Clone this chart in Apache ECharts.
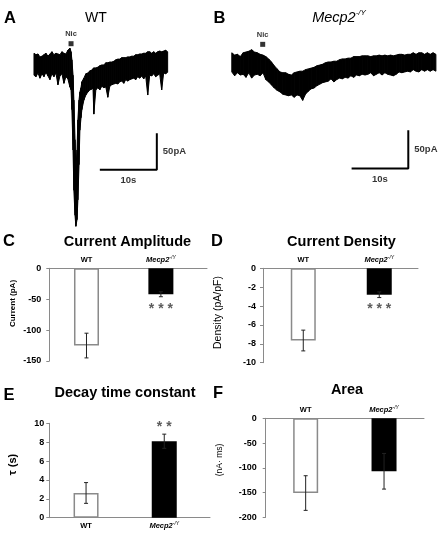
<!doctype html>
<html>
<head>
<meta charset="utf-8">
<title>Nicotinic currents WT vs Mecp2</title>
<style>
html, body { margin: 0; padding: 0; background: #fff; }
#chart { width: 438px; height: 538px; }
</style>
</head>
<body>
<div id="chart"></div>
<script src="https://cdn.jsdelivr.net/npm/echarts@6/dist/echarts.min.js"></script>
<script>
// ---- A: WT current trace (s, pA), upper / lower edge of the noisy record ----
var tA = [0.7, 1.05, 1.4, 1.75, 2.1, 2.45, 2.8, 3.15, 3.5, 3.85, 4.2, 4.55, 4.9, 5.25, 5.6, 5.95, 6.3, 6.65, 7.0,
  7.2, 7.35, 7.55, 7.7, 7.9, 8.05, 8.25, 8.4, 8.6, 8.75, 8.95, 9.1,
  9.45, 9.8, 10.15, 10.5, 10.85, 11.05, 11.2,
  11.55, 11.9, 12.25, 12.6, 12.95, 13.3, 13.65, 14.0,
  14.35, 14.7, 15.05, 15.4, 15.75, 16.1, 16.45, 16.8, 17.15, 17.5, 17.85, 18.2, 18.55, 18.9, 19.25,
  19.6, 19.95, 20.3, 20.65, 21.0, 21.35, 21.7, 22.05, 22.4, 22.75, 23.1, 23.45, 23.8, 24.15];
var aHi = [16, 14, 15, 11, 12, 14, 16, 12, 15, 18, 14, 16, 15, 14, 18, 16, 15, 20, 23,
  18, 7, -14, -48, -102, -143, -116, -75, -48, -37, -31, -23,
  -18, -12, -11, -8, -7, -5, -4,
  -4, -3, -1, 0, 0, 3, 3, 4,
  4, 5, 7, 8, 8, 10, 10, 10, 11, 11, 12, 12, 14, 14, 15,
  15, 16, 16, 18, 18, 16, 18, 16, 18, 19, 18, 19, 20, 18];
var aLo = [-14, -16, -11, -18, -12, -16, -10, -15, -20, -12, -16, -11, -27, -15, -12, -25, -16, -19, -30,
  -34, -61, -116, -171, -205, -220, -211, -184, -136, -89, -72, -61,
  -48, -41, -37, -34, -33, -31, -67,
  -34, -31, -34, -29, -31, -30, -44, -29,
  -27, -26, -25, -26, -23, -22, -25, -20, -22, -20, -19, -18, -20, -16, -18,
  -15, -19, -15, -41, -14, -15, -12, -16, -14, -12, -34, -11, -12, -10];

// ---- B: Mecp2-/Y current trace ----
var tB = [1.2, 1.7, 2.2, 2.7, 3.2, 3.7, 4.2, 4.7, 5.2, 5.7, 6.2, 6.7, 7.2, 7.7, 8.2, 8.7, 9.2, 9.7, 10.2, 10.7,
  11.2, 11.7, 12.2, 12.7, 13.2, 13.7, 14.2, 14.7, 15.2, 15.7, 16.2, 16.7, 17.2, 17.7, 18.2, 18.7, 19.2, 19.7,
  20.2, 20.7, 21.2, 21.7, 22.2, 22.7, 23.2, 23.7, 24.2, 24.7, 25.2, 25.7, 26.2, 26.7, 27.2, 27.7, 28.2, 28.7,
  29.2, 29.7, 30.2, 30.7, 31.2, 31.7, 32.2, 32.7, 33.2, 33.7, 34.2, 34.7, 35.2, 35.7, 36.2, 36.7, 37.2];
var bHi = [12, 9, 10, 7, 12, 13, 14, 16, 13, 12, 10, 9, 7, 4, 0, -5, -9, -13, -14, -14,
  -16, -17, -14, -13, -12, -12, -10, -9, -8, -7, -5, -4, -3, -1, 0, 0, 1, 1,
  3, 4, 4, 5, 5, 7, 7, 7, 8, 8, 8, 7, 8, 8, 9, 8, 9, 8,
  9, 8, 9, 10, 10, 9, 10, 10, 12, 10, 12, 12, 10, 12, 10, 12, 10];
var bLo = [-13, -18, -14, -17, -16, -20, -14, -21, -17, -16, -18, -14, -23, -26, -30, -34, -37, -39, -42, -43,
  -44, -43, -46, -43, -44, -50, -42, -38, -35, -34, -31, -29, -27, -26, -25, -22, -26, -23,
  -21, -22, -20, -21, -18, -20, -17, -18, -16, -17, -16, -14, -18, -16, -14, -17, -14, -16,
  -17, -18, -16, -13, -14, -13, -12, -13, -10, -12, -13, -10, -12, -10, -12, -10, -12];

// nicotine puff (time, level) and scale bars (origin, 10 s x 50 pA)
var nicA = [7.2, 29], nicB = [6.65, 23];
var barOriginA = [12.25, -143], barOriginB = [22.33, -139];
var scaleSec = 10, scalePA = 50;

// ---- C-F: group means and errors ----
var groups = ['WT', 'Mecp2'];
var ampMean = [-125, -42], ampErr = [20, 4], ampSig = ['', '* * *'];
var denMean = [-7.65, -2.8], denErr = [1.1, 0.3], denSig = ['', '* * *'];
var tauMean = [2.62, 8.1], tauErr = [1.1, 0.75], tauSig = ['', '* *'];
var areaMean = [-151, -107], areaErr = [35, 36];

var FONT = "'Liberation Sans', Arial, sans-serif";
var chart = echarts.init(document.getElementById('chart'));

function bandItem(times, hi, lo) {
  return function (params, api) {
    var i = params.dataIndex;
    if (i >= times.length - 1) return null;
    var pts = [
      api.coord([times[i], hi[i]]), api.coord([times[i + 1], hi[i + 1]]),
      api.coord([times[i + 1], lo[i + 1]]), api.coord([times[i], lo[i]])
    ];
    return { type: 'polygon', shape: { points: pts }, style: { fill: '#000', stroke: '#000', lineWidth: 1, lineJoin: 'round' } };
  };
}

function errItem(params, api) {
  var x = api.value(0), m = api.value(1), e = api.value(2);
  var a = api.coord([x, m + e]), b = api.coord([x, m - e]);
  var st = { stroke: '#222', lineWidth: 1 };
  return { type: 'group', children: [
    { type: 'line', shape: { x1: a[0], y1: a[1], x2: b[0], y2: b[1] }, style: st },
    { type: 'line', shape: { x1: a[0] - 2, y1: a[1], x2: a[0] + 2, y2: a[1] }, style: st },
    { type: 'line', shape: { x1: b[0] - 2, y1: b[1], x2: b[0] + 2, y2: b[1] }, style: st }
  ] };
}

var labelRich = {
  w: { fontSize: 7.5, fontWeight: 'bold', fontFamily: FONT, color: '#000', lineHeight: 10 },
  i: { fontSize: 7.5, fontWeight: 'bold', fontStyle: 'italic', fontFamily: FONT, color: '#000', lineHeight: 10 },
  s: { fontSize: 5, fontStyle: 'italic', fontFamily: FONT, color: '#000', lineHeight: 5, verticalAlign: 'top' }
};

function catX(gi, min, max, pos) {
  return {
    type: 'value', gridIndex: gi, min: min, max: max, position: pos,
    axisLine: { onZero: false, lineStyle: { color: '#8a8a8a', width: 1 } },
    axisTick: { show: false }, splitLine: { show: false },
    axisLabel: {
      customValues: [0.5, 1.5], margin: 3, rich: labelRich,
      formatter: function (v) { return v < 1 ? '{w|' + groups[0] + '}' : '{i|' + groups[1] + '}{s|-/Y}'; }
    }
  };
}
function valY(gi, min, max, interval, margin) {
  return {
    type: 'value', gridIndex: gi, min: min, max: max, interval: interval,
    axisLine: { show: true, onZero: false, lineStyle: { color: '#8a8a8a', width: 1 } },
    axisTick: { show: true, length: 3, lineStyle: { color: '#8a8a8a' } },
    splitLine: { show: false },
    axisLabel: { color: '#000', fontWeight: 'bold', fontSize: 9, fontFamily: FONT, margin: margin }
  };
}
function hidden(gi, min, max) {
  return { type: 'value', gridIndex: gi, min: min, max: max, show: false, splitLine: { show: false } };
}

function barSeries(ai, mean) {
  return {
    type: 'bar', xAxisIndex: ai, yAxisIndex: ai, barWidth: 25, z: 2,
    data: mean.map(function (m, i) {
      return { value: [i + 0.5, m], itemStyle: i === 0 ? { color: '#fff', borderColor: '#8a8a8a', borderWidth: 1.5 } : { color: '#000' } };
    })
  };
}
function errSeries(ai, mean, err) {
  return {
    type: 'custom', xAxisIndex: ai, yAxisIndex: ai, z: 3, renderItem: errItem,
    data: mean.map(function (m, i) { return [i + 0.5, m, err[i]]; })
  };
}
function sigSeries(ai, mean, err, sig, below, dist) {
  return {
    type: 'scatter', xAxisIndex: ai, yAxisIndex: ai, symbolSize: 0, z: 4,
    data: mean.map(function (m, i) { return [i + 0.5, below ? m - err[i] : m + err[i]]; }),
    label: {
      show: true, position: below ? 'bottom' : 'top', distance: dist,
      fontSize: 14, fontWeight: 'bold', color: '#333', fontFamily: FONT,
      formatter: function (p) { return sig[p.dataIndex]; }
    }
  };
}
function traceSeries(ai, times, hi, lo) {
  return {
    type: 'custom', xAxisIndex: ai, yAxisIndex: ai, renderItem: bandItem(times, hi, lo),
    encode: { x: 0, y: [1, 2] },
    data: times.map(function (t, i) { return [t, hi[i], lo[i]]; })
  };
}
function scaleSeries(ai, o) {
  return [{
    type: 'line', xAxisIndex: ai, yAxisIndex: ai, symbol: 'none', silent: true,
    lineStyle: { color: '#000', width: 2 },
    data: [[o[0], o[1]], [o[0] + scaleSec, o[1]], [o[0] + scaleSec, o[1] + scalePA]]
  }, {
    type: 'scatter', xAxisIndex: ai, yAxisIndex: ai, symbolSize: 0,
    data: [
      { value: [o[0] + scaleSec / 2, o[1]], label: { position: 'bottom', distance: 6, formatter: scaleSec + 's' } },
      { value: [o[0] + scaleSec, o[1] + scalePA / 2], label: { position: 'right', distance: 6, formatter: scalePA + 'pA' } }
    ],
    label: { show: true, fontSize: 9.5, fontWeight: 'bold', color: '#000', fontFamily: FONT }
  }];
}
function nicSeries(ai, p) {
  return {
    type: 'scatter', xAxisIndex: ai, yAxisIndex: ai, symbol: 'rect', symbolSize: 5,
    itemStyle: { color: '#000' }, data: [p],
    label: { show: true, position: 'top', distance: 3, formatter: 'Nic', fontSize: 7.5, fontWeight: 'bold', color: '#000', fontFamily: FONT }
  };
}

function txt(x, y, text, size, weight, extra) {
  var st = { text: text, x: 0, y: 0, fontSize: size, fontWeight: weight || 'normal', fontFamily: FONT, fill: '#000', align: 'center', verticalAlign: 'middle' };
  if (extra) for (var k in extra) st[k] = extra[k];
  return { type: 'text', x: x, y: y, style: st };
}
function vtxt(x, y, text, size, weight) {
  var t = txt(x, y, text, size, weight);
  t.rotation = Math.PI / 2;
  return t;
}

var option = {
  backgroundColor: '#fff',
  animation: false,
  grid: [
    { left: 30, top: 28.3, width: 159.6, height: 205.3 },
    { left: 225, top: 19.8, width: 213, height: 160.3 },
    { left: 49.3, top: 268.3, width: 157.7, height: 92.7 },
    { left: 263, top: 268.3, width: 155, height: 94.4 },
    { left: 49.3, top: 423.3, width: 160.7, height: 94.4 },
    { left: 265.7, top: 418.3, width: 158.3, height: 99 }
  ],
  xAxis: [
    hidden(0, 0, 28), hidden(1, 0, 37.57),
    catX(2, 0, 2.12, 'top'), catX(3, -0.03, 2.01, 'top'),
    catX(4, 0.03, 2.085, 'bottom'), catX(5, -0.01, 2.01, 'top')
  ],
  yAxis: [
    hidden(0, -230, 50), hidden(1, -154, 55),
    valY(2, -150, 0, 50, 8), valY(3, -10, 0, 2, 7),
    valY(4, 0, 10, 2, 5), valY(5, -200, 0, 50, 9)
  ],
  series: [
    traceSeries(0, tA, aHi, aLo), nicSeries(0, nicA),
    traceSeries(1, tB, bHi, bLo), nicSeries(1, nicB),
    barSeries(2, ampMean), errSeries(2, ampMean, ampErr), sigSeries(2, ampMean, ampErr, ampSig, true, 5),
    barSeries(3, denMean), errSeries(3, denMean, denErr), sigSeries(3, denMean, denErr, denSig, true, 5),
    barSeries(4, tauMean), errSeries(4, tauMean, tauErr), sigSeries(4, tauMean, tauErr, tauSig, false, 0),
    barSeries(5, areaMean), errSeries(5, areaMean, areaErr)
  ].concat(scaleSeries(0, barOriginA), scaleSeries(1, barOriginB)),
  graphic: [
    txt(10, 18.5, 'A', 16.5, 'bold'), txt(219.5, 18.5, 'B', 16.5, 'bold'),
    txt(9, 241, 'C', 16.5, 'bold'), txt(217, 241, 'D', 16.5, 'bold'),
    txt(9, 395, 'E', 16.5, 'bold'), txt(218, 393, 'F', 16.5, 'bold'),
    txt(96, 18, 'WT', 14),
    txt(339, 18, '{i|Mecp2}{s|-/Y}', 14.5, 'normal', {
      rich: {
        i: { fontSize: 14.5, fontStyle: 'italic', fontFamily: FONT, fill: '#000', lineHeight: 18 },
        s: { fontSize: 8, fontStyle: 'italic', fontFamily: FONT, fill: '#000', lineHeight: 9, verticalAlign: 'top' }
      }
    }),
    txt(127.5, 241.5, 'Current Amplitude', 14.5, 'bold'),
    txt(341.5, 242, 'Current Density', 14.5, 'bold'),
    txt(125, 393, 'Decay time constant', 14.5, 'bold'),
    txt(347, 390, 'Area', 14.5, 'bold'),
    vtxt(12.5, 303.5, 'Current (pA)', 8, 'bold'),
    vtxt(218.5, 312.5, 'Density (pA/pF)', 10.5),
    vtxt(12.5, 464.5, 'τ (s)', 11, 'bold'),
    vtxt(219.5, 460, '(nA· ms)', 8.5)
  ]
};
chart.setOption(option);
</script>
</body>
</html>
